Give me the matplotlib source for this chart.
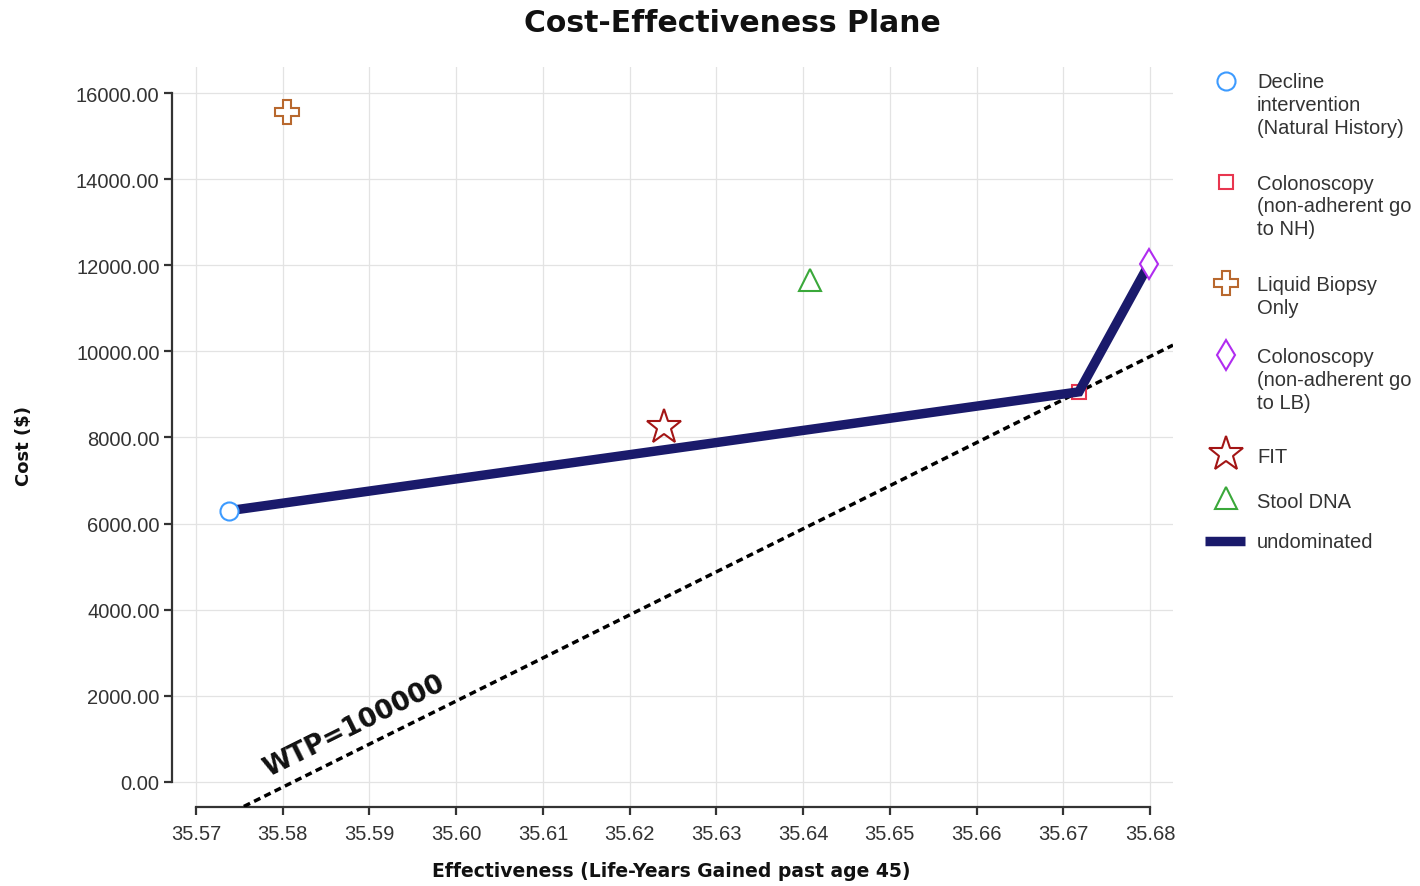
import matplotlib
matplotlib.use("Agg")
import matplotlib.pyplot as plt

# Strategy results: effectiveness (life-years gained past age 45) and cost ($)
strategies = [
    "Decline intervention (Natural History)",
    "Colonoscopy (non-adherent go to NH)",
    "Liquid Biopsy Only",
    "Colonoscopy (non-adherent go to LB)",
    "FIT",
    "Stool DNA",
]
legend_lines = [
    ["Decline", "intervention", "(Natural History)"],
    ["Colonoscopy", "(non-adherent go", "to NH)"],
    ["Liquid Biopsy", "Only"],
    ["Colonoscopy", "(non-adherent go", "to LB)"],
    ["FIT"],
    ["Stool DNA"],
]
effectiveness = [35.5738, 35.6718, 35.5805, 35.6799, 35.6240, 35.6408]
cost = [6300, 9060, 15560, 12030, 8240, 11660]

# Efficient frontier (indices into the strategy lists)
undominated_idx = [0, 1, 3]

# Willingness-to-pay threshold, anchored on the colonoscopy (NH) strategy
wtp = 100000
wtp_anchor = 1

x_ticks = [35.57, 35.58, 35.59, 35.60, 35.61, 35.62, 35.63, 35.64, 35.65, 35.66, 35.67, 35.68]
y_ticks = [0, 2000, 4000, 6000, 8000, 10000, 12000, 14000, 16000]

# Marker styles
markers = ["o", "s", "P", "d", "*", "^"]
colors = ["#3d9bff", "#e8364f", "#b8682e", "#b02cf0", "#a31515", "#3aa83a"]
sizes = [13, 10, 17, 15, 26, 16]
frontier_color = "#1a1a6b"
text_color = "#333333"

W, H = 1420, 887
fig = plt.figure(figsize=(W / 100, H / 100), dpi=100)

left, right, top, bottom = 172, 1173, 68, 808
ax = fig.add_axes([left / W, 1 - bottom / H, (right - left) / W, (bottom - top) / H])
ax.set_xlim(35.567233, 35.682652)
ax.set_ylim(-580.6, 16603.8)

# Grid
ax.set_xticks(x_ticks)
ax.set_yticks(y_ticks)
ax.grid(True, color="#e3e3e3", linewidth=0.9, zorder=0)
ax.set_axisbelow(True)

# Spines: domain paths spanning only the tick range
for s in ["top", "right"]:
    ax.spines[s].set_visible(False)
ax.spines["left"].set_bounds(y_ticks[0], y_ticks[-1])
ax.spines["bottom"].set_bounds(x_ticks[0], x_ticks[-1])
for s in ["left", "bottom"]:
    ax.spines[s].set_color(text_color)
    ax.spines[s].set_linewidth(1.6)
ax.tick_params(axis="both", length=6, width=1.6, color=text_color,
               labelcolor=text_color, labelsize=14.5)
ax.tick_params(axis="y", pad=3)
ax.tick_params(axis="x", pad=6)
ax.set_xticklabels([f"{v:.2f}" for v in x_ticks], family="Liberation Sans")
ax.set_yticklabels([f"{v:.2f}" for v in y_ticks], family="Liberation Sans")

# WTP line
x0, x1 = ax.get_xlim()
ex, cy = effectiveness[wtp_anchor], cost[wtp_anchor]
ax.plot([x0, x1], [cy + wtp * (x0 - ex), cy + wtp * (x1 - ex)],
        color="black", lw=2.5, ls=(0, (2, 1.3)), zorder=3)
ax.text(35.5882, 1320, "WTP=100000", rotation=26.4, rotation_mode="anchor",
        ha="center", va="center", fontsize=19, fontweight="bold",
        family="DejaVu Sans", color="#111111", zorder=4)

# Colonoscopy (NH) marker sits beneath the lines
i = 1
ax.plot(effectiveness[i], cost[i], marker=markers[i], ms=sizes[i], mfc="none",
        mec=colors[i], mew=1.5, ls="none", zorder=3)

# Undominated frontier
ax.plot([effectiveness[k] for k in undominated_idx], [cost[k] for k in undominated_idx],
        color=frontier_color, lw=6.8, solid_capstyle="butt", solid_joinstyle="miter", zorder=4)

# Remaining strategy markers
for i in range(len(strategies)):
    if i == 1:
        continue
    ax.plot(effectiveness[i], cost[i], marker=markers[i], ms=sizes[i], mfc="white",
            mec=colors[i], mew=1.5, ls="none", zorder=5)

# Titles
fig.text(732 / W, 1 - 23 / H, "Cost-Effectiveness Plane", ha="center", va="center",
         fontsize=21.5, fontweight="bold", family="DejaVu Sans", color="#111111")
fig.text(671 / W, 1 - 872 / H, "Effectiveness (Life-Years Gained past age 45)",
         ha="center", va="center", fontsize=13.5, fontweight="bold",
         family="DejaVu Sans", color="#111111")
fig.text(24 / W, 1 - 446 / H, "Cost ($)", ha="center", va="center", rotation=90,
         fontsize=13, fontweight="bold", family="DejaVu Sans", color="#111111")

# Legend drawn in pixel space
lax = fig.add_axes([0, 0, 1, 1], facecolor="none")
lax.set_xlim(0, W)
lax.set_ylim(H, 0)
lax.axis("off")
marker_y = [82, 183, 284, 356, 455, 499]
text_y0 = [83, 184, 286, 358, 458, 503]
line_step = 22.8
for i in range(len(strategies)):
    lax.plot(1226, marker_y[i], marker=markers[i], ms=sizes[i], mfc="white",
             mec=colors[i], mew=1.5, ls="none")
    for j, ln in enumerate(legend_lines[i]):
        lax.text(1257, text_y0[i] + j * line_step, ln, ha="left", va="center",
                 fontsize=14.5, family="Liberation Sans", color=text_color, clip_on=False)
lax.plot([1205, 1245], [542, 542], color=frontier_color, lw=6.8, solid_capstyle="butt")
lax.text(1257, 543, "undominated", ha="left", va="center", fontsize=14.5,
         family="Liberation Sans", color=text_color)

fig.savefig("out.png", dpi=100)
